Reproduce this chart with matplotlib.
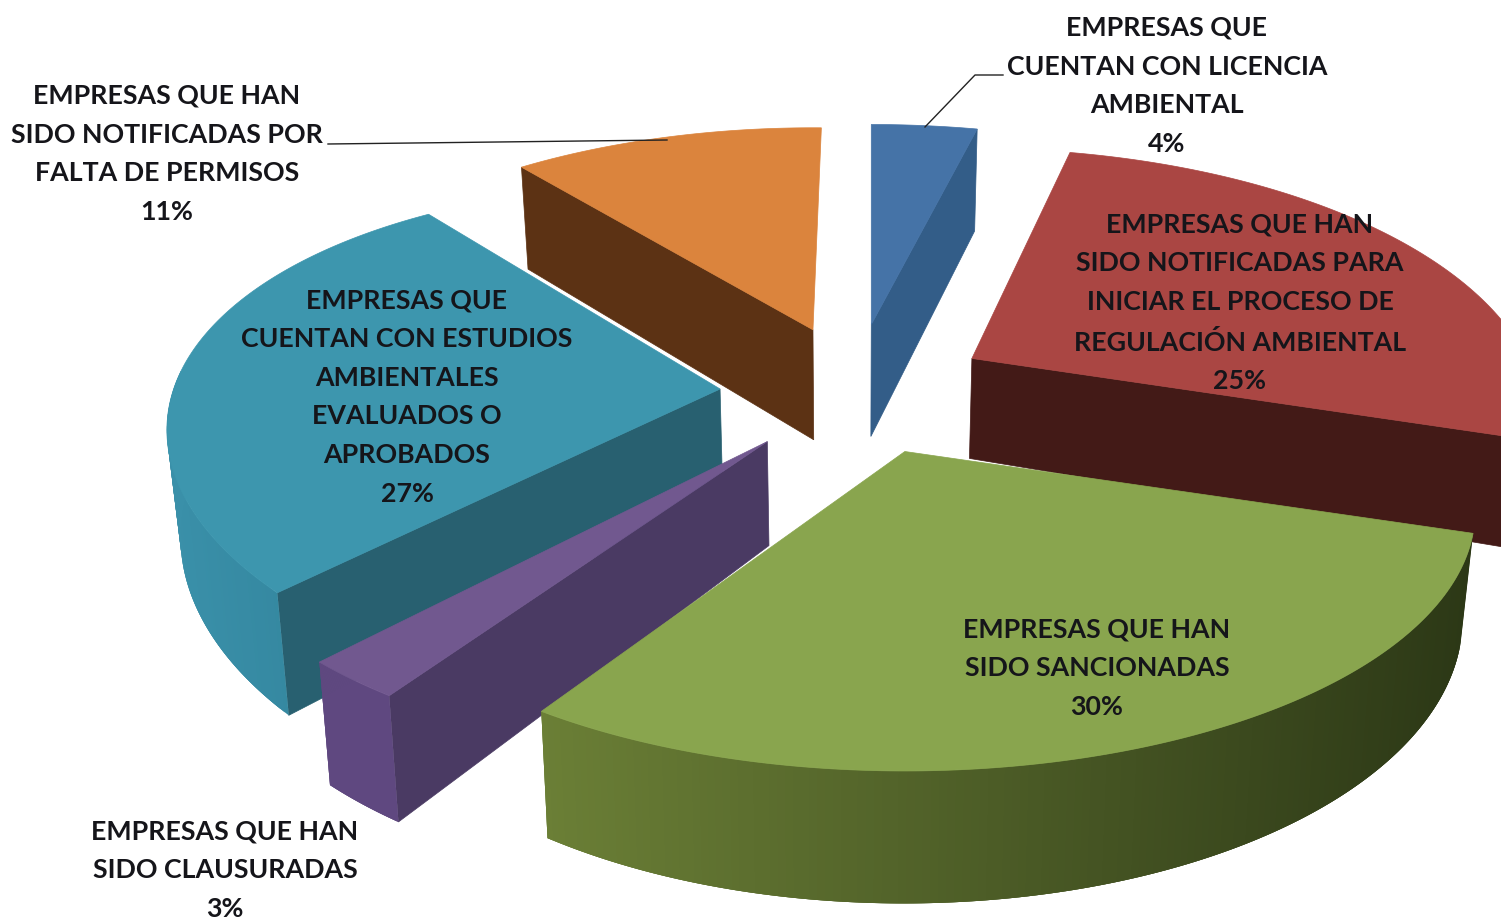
import matplotlib
matplotlib.use("Agg")
import matplotlib.pyplot as plt
import numpy as np
from matplotlib.patches import Polygon

# values clockwise starting at 12 o'clock
names = ["EMPRESAS QUE\nCUENTAN CON LICENCIA\nAMBIENTAL",
         "EMPRESAS QUE HAN\nSIDO NOTIFICADAS PARA\nINICIAR EL PROCESO DE\nREGULACIÓN AMBIENTAL",
         "EMPRESAS QUE HAN\nSIDO SANCIONADAS",
         "EMPRESAS QUE HAN\nSIDO CLAUSURADAS",
         "EMPRESAS QUE\nCUENTAN CON ESTUDIOS\nAMBIENTALES\nEVALUADOS O\nAPROBADOS",
         "EMPRESAS QUE HAN\nSIDO NOTIFICADAS POR\nFALTA DE PERMISOS"]
values = [4, 25, 30, 3, 27, 11]

top_colors = ["#4573A7", "#AA4643", "#89A54E", "#71588F", "#3D96AE", "#DB843D"]
face_colors = ["#335D88", "#431A17", "#2E3A17", "#4A3A63", "#286070", "#5C3214"]
wall_left = ["#335D88", "#431A17", "#6B7F36", "#5F4880", "#3A90A9", "#5C3214"]
wall_right = ["#335D88", "#431A17", "#2C3816", "#5F4880", "#2F7F97", "#5C3214"]

label_x = [1167, 1240, 1097, 225, 407, 167]
label_y = [86, 303, 668, 870, 397, 154]

cx, cy = 855, 388      # pie centre before exploding
ex, ey = 130, 64       # explode distance
rx, ry, k = 555, 246, 0.23   # perspective of the disc
depth = 102

# small per slice corrections, the source image is not a clean projection
shift_x = [0, 5, 2, -8, -5, 2]
shift_y = [0, 3, 4, 3, 3, 2]
start_adj = [0, -1.9, 3.6, 1.0, 0, 0]
end_adj = [-0.9, 3.0, -0.6, -1.2, 0, 1.1]
scale_x = [1, 1, 1, 1, 0.97, 0.97]
scale_y = [1, 1.05, 1, 1, 1.02, 1.01]
skew = [0, 0, 0, 0, 0.036, 0]
apex_depth = [112, 100, 104, 104, 102, 110]


def rim(theta, i):
    X = np.sin(theta)
    Y = -np.cos(theta)
    s = 1 / (1 - k * Y)
    dx = X * rx * s * scale_x[i]
    dy = Y * ry * s * scale_y[i] + skew[i] * dx
    return dx, dy, depth * np.maximum(s, 1)


def lower(x, y, h):
    # sides lean slightly to the middle
    return x - 0.02 * (x - 850), y + h


def mix(c1, c2, t):
    a = np.array(matplotlib.colors.to_rgb(c1))
    b = np.array(matplotlib.colors.to_rgb(c2))
    return a + (b - a) * t


fig = plt.figure(figsize=(15.01, 9.18), dpi=100)
ax = fig.add_axes([0, 0, 1, 1])
ax.set_xlim(0, 1501)
ax.set_ylim(918, 0)
ax.axis("off")

edges = np.cumsum([0] + values) / sum(values) * 2 * np.pi
order = [5, 0, 1, 4, 3, 2]   # back to front

for i in order:
    a0, a1 = edges[i], edges[i + 1]
    mid = (a0 + a1) / 2
    ax0 = cx + ex * np.sin(mid) + shift_x[i]
    ay0 = cy - ey * np.cos(mid) + shift_y[i]
    a0 = a0 + np.radians(start_adj[i])
    a1 = a1 + np.radians(end_adj[i])
    t = np.linspace(a0, a1, 160)
    dx, dy, h = rim(t, i)
    px, py = ax0 + dx, ay0 + dy

    # cut faces
    for j, visible in [(0, np.sin(a0) < -1e-9), (-1, np.sin(a1) > 1e-9 and a1 < np.pi)]:
        if visible:
            bx, by = lower(px[j], py[j], h[j])
            cxb, cyb = lower(ax0, ay0, apex_depth[i])
            ax.add_patch(Polygon([(ax0, ay0), (px[j], py[j]), (bx, by), (cxb, cyb)],
                                 closed=True, fc=face_colors[i], ec=face_colors[i], lw=0.5))

    # outer wall, front part only, each strip overlaps the next to hide seams
    front = (t > np.pi / 2) & (t < 3 * np.pi / 2)
    idx = np.where(front)[0]
    xs = px.min(), px.max()
    for n in idx[:-1]:
        m = min(n + 3, idx[-1])
        bx0, by0 = lower(px[n], py[n], h[n])
        bx1, by1 = lower(px[m], py[m], h[m])
        frac = (px[n] - xs[0]) / (xs[1] - xs[0])
        col = mix(wall_left[i], wall_right[i], frac)
        ax.add_patch(Polygon([(px[n], py[n]), (px[m], py[m]), (bx1, by1), (bx0, by0)],
                             closed=True, fc=col, ec="none"))

    ax.add_patch(Polygon(np.column_stack([np.r_[ax0, px], np.r_[ay0, py]]), closed=True,
                         fc=top_colors[i], ec=top_colors[i], lw=0.5))

# leader lines
ax.plot([925, 975, 1003], [127, 75, 75], color="#222222", lw=1)
ax.plot([667, 328], [140, 144], color="#222222", lw=1)

for i in range(len(values)):
    ax.text(label_x[i], label_y[i], f"{names[i]}\n{values[i]}%", ha="center", va="center",
            family="Lato", weight="bold", fontsize=19.3, linespacing=1.74, color="#15151a")

fig.savefig("out.png", dpi=100)
